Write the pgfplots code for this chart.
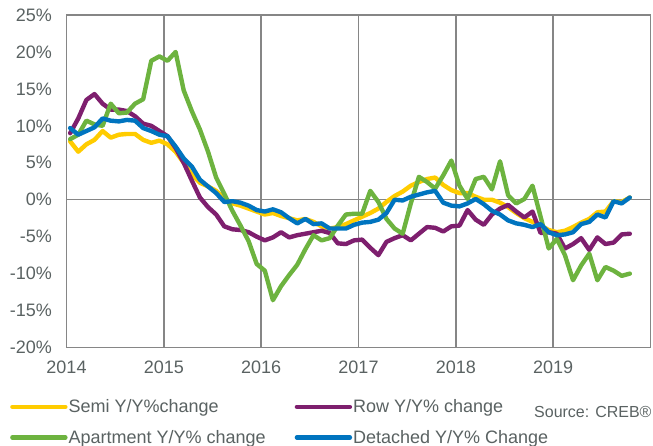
\documentclass[border=0pt]{standalone}
\usepackage{fontspec}
\setmainfont{Liberation Sans}
\usepackage{pgfplots}
\usepackage{pgfplotstable}
\pgfplotsset{compat=1.18}

\definecolor{semicol}{RGB}{255,204,0}
\definecolor{rowcol}{RGB}{126,31,110}
\definecolor{aptcol}{RGB}{109,179,63}
\definecolor{detcol}{RGB}{0,116,191}
\definecolor{gridcol}{RGB}{134,134,134}
\definecolor{txtcol}{RGB}{90,98,98}

% monthly Y/Y % change, m = 0 is Jan 2014
\pgfplotstableread{
m semi row apt det
0 7.9 9.0 8.2 9.7
1 6.5 11.0 8.8 8.8
2 7.5 13.5 10.7 9.3
3 8.1 14.3 10.2 9.8
4 9.3 13.0 10.0 11.0
5 8.4 12.2 13.0 10.7
6 8.8 12.2 11.7 10.6
7 8.9 12.0 11.8 10.8
8 8.9 11.3 13.0 10.7
9 8.1 10.3 13.6 9.7
10 7.7 10.0 18.8 9.3
11 8.0 9.3 19.4 8.8
12 7.5 8.6 18.8 8.6
13 6.5 7.0 20.0 7.2
14 5.0 5.0 14.8 5.6
15 3.4 2.6 12.0 4.5
16 2.3 0.3 9.5 2.7
17 1.8 -1.0 6.5 1.8
18 1.2 -2.0 3.0 0.9
19 0.2 -3.6 0.8 -0.3
20 -0.5 -4.0 -1.5 -0.2
21 -0.8 -4.1 -3.5 -0.4
22 -1.2 -4.4 -5.6 -0.8
23 -1.6 -5.0 -8.7 -1.4
24 -2.0 -5.5 -9.6 -1.6
25 -1.8 -5.1 -13.6 -1.3
26 -2.2 -4.4 -11.7 -1.7
27 -2.5 -5.1 -10.2 -2.5
28 -2.8 -4.8 -8.8 -3.2
29 -2.6 -4.6 -6.7 -2.6
30 -3.0 -4.4 -4.8 -3.3
31 -3.6 -4.2 -5.5 -3.2
32 -3.9 -4.5 -5.2 -3.9
33 -3.7 -5.9 -3.5 -3.9
34 -3.3 -6.0 -2.0 -3.9
35 -2.8 -5.5 -1.9 -3.4
36 -2.3 -5.4 -1.9 -3.1
37 -1.8 -6.5 1.2 -3.0
38 -1.2 -7.5 -0.3 -2.7
39 -0.3 -5.7 -2.6 -1.8
40 0.5 -5.2 -3.9 0.0
41 1.1 -4.8 -4.6 -0.1
42 1.9 -5.5 -0.5 0.4
43 2.4 -4.6 3.1 0.7
44 2.8 -3.7 2.4 1.0
45 3.0 -3.8 1.5 1.2
46 2.0 -4.3 3.3 -0.4
47 1.3 -3.6 5.3 -0.8
48 0.9 -3.5 1.9 -0.9
49 0.9 -1.4 0.1 -0.5
50 0.4 -2.7 2.8 0.1
51 0.0 -3.4 3.1 -0.6
52 0.0 -2.0 1.4 -1.5
53 -0.4 -1.2 5.2 -2.0
54 -1.0 -0.7 0.6 -2.8
55 -1.8 -1.6 -0.5 -3.2
56 -2.5 -2.4 0.1 -3.4
57 -3.0 -1.6 1.9 -3.7
58 -3.5 -4.5 -2.3 -3.3
59 -4.1 -4.4 -6.6 -4.4
60 -4.4 -4.6 -5.3 -4.8
61 -4.2 -6.6 -7.5 -4.7
62 -3.7 -6.0 -10.9 -4.4
63 -3.1 -5.2 -8.9 -3.3
64 -2.6 -6.8 -7.3 -3.0
65 -1.7 -5.1 -10.9 -2.0
66 -1.6 -6.0 -9.1 -2.4
67 -0.2 -5.8 -9.6 -0.2
68 -0.3 -4.7 -10.3 -0.5
69 0.3 -4.6 -10.0 0.3
}\creb

\begin{document}
\begin{tikzpicture}
\path[use as bounding box] (0pt,0pt) rectangle (653pt,-446pt);
\begin{axis}[
    at={(66.5pt,-347.5pt)}, anchor=south west,
    scale only axis,
    width=584pt, height=332.5pt,
    xmin=0, xmax=72,
    ymin=-20, ymax=25,
    xtick={0,12,24,36,48,60},
    xticklabels={2014,2015,2016,2017,2018,2019},
    ytick={-20,-15,...,25},
    yticklabel={\pgfmathprintnumber{\tick}\%},
    /pgf/number format/assume math mode=true,
    major tick length=0pt,
    xmajorgrids,
    extra y ticks={0},
    extra y tick labels={},
    extra y tick style={ymajorgrids},
    grid style={gridcol, line width=1.5pt},
    axis line style={gridcol, line width=1.7pt},
    ticklabel style={font=\fontsize{18}{20}\selectfont, text=txtcol},
    yticklabel style={xshift=-11pt},
    xticklabel style={yshift=-10pt},
    every axis plot/.append style={line width=4.4pt, line join=round, line cap=round},
    legend columns=2,
    legend cell align=left,
    legend image code/.code={\draw[#1, line width=4.4pt, line cap=round] (0pt,0pt) -- (53pt,0pt);},
    legend style={at={(-0.1019,-0.147)}, anchor=north west, draw=none,
        font=\fontsize{18}{20}\selectfont, text=txtcol,
        nodes={inner sep=1pt}, row sep=14pt,
        /tikz/every even column/.append style={column sep=28pt}},
]
\addplot[semicol] table[x expr=\thisrow{m}+0.45, y=semi] {\creb};
\addlegendentry{Semi Y/Y\%change}
\addplot[rowcol] table[x expr=\thisrow{m}+0.45, y=row] {\creb};
\addlegendentry{Row Y/Y\% change}
\addplot[aptcol] table[x expr=\thisrow{m}+0.45, y=apt] {\creb};
\addlegendentry{Apartment Y/Y\% change}
\addplot[detcol] table[x expr=\thisrow{m}+0.45, y=det] {\creb};
\addlegendentry{Detached Y/Y\% Change}
\end{axis}
\node[anchor=west, inner sep=0pt, text=txtcol, font=\fontsize{16}{18}\selectfont] at (534pt,-412pt) {Source: CREB®};
\end{tikzpicture}
\end{document}
